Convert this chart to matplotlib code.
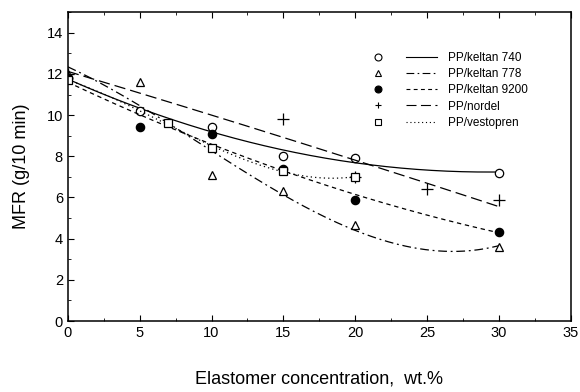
import numpy as np
import matplotlib
matplotlib.use("Agg")
from matplotlib import pyplot as plt
from matplotlib.lines import Line2D
from matplotlib.legend_handler import HandlerTuple
from matplotlib.ticker import MultipleLocator

plt.rcParams['font.family'] = ['Liberation Sans', 'DejaVu Sans']

# Data (elastomer wt.% vs MFR g/10 min)
x_740 = [0, 5, 10, 15, 20, 30]
y_740 = [11.8, 10.2, 9.4, 8.0, 7.9, 7.2]
x_778 = [0, 5, 10, 15, 20, 30]
y_778 = [12.0, 11.6, 7.1, 6.3, 4.66, 3.6]
x_9200 = [0, 5, 10, 15, 20, 30]
y_9200 = [11.8, 9.4, 9.1, 7.4, 5.9, 4.33]
x_nordel = [0, 15, 20, 25, 30]
y_nordel = [12.0, 9.8, 7.0, 6.4, 5.9]
x_vest = [0, 7, 10, 15, 20]
y_vest = [11.7, 9.6, 8.4, 7.3, 7.0]

labels = ["PP/keltan 740", "PP/keltan 778", "PP/keltan 9200", "PP/nordel", "PP/vestopren"]

series = [
    # x, y, marker, face, linestyle, fit degree
    (x_740, y_740, "o", "white", "-", 2),
    (x_778, y_778, "^", "white", (0, (7, 3, 1.5, 3)), 3),
    (x_9200, y_9200, "o", "black", (0, (3.5, 3)), 2),
    (x_nordel, y_nordel, "+", "black", (0, (9, 4)), 2),
    (x_vest, y_vest, "s", "white", (0, (1, 2.5)), 3),
]

fig = plt.figure(figsize=(5.8, 3.92), dpi=100)
ax = fig.add_axes([0.117, 0.181, 0.867, 0.788])

handles = []
for (xs, ys, mk, fc, ls, deg), lab in zip(series, labels):
    xs = np.array(xs, dtype=float)
    ys = np.array(ys, dtype=float)
    coef = np.polyfit(xs, ys, deg)
    xf = np.linspace(xs.min(), xs.max(), 200)
    ax.plot(xf, np.polyval(coef, xf), color="black", lw=0.9, linestyle=ls)
    ms = 8 if mk == "+" else 6
    ax.plot(xs, ys, linestyle="none", marker=mk, markersize=ms,
            markerfacecolor=fc, markeredgecolor="black", markeredgewidth=0.9)
    h_m = Line2D([], [], linestyle="none", marker=mk, markersize=5,
                 markerfacecolor=fc, markeredgecolor="black", markeredgewidth=0.8)
    h_l = Line2D([], [], color="black", lw=0.8, linestyle=ls)
    handles.append((h_m, h_l))

ax.legend(handles, labels, handler_map={tuple: HandlerTuple(ndivide=None, pad=1.0)},
          loc="upper right", bbox_to_anchor=(0.935, 0.905), frameon=False,
          fontsize=8.5, handlelength=6.3, handletextpad=0.9, labelspacing=0.35)

ax.set_xlim(0, 35)
ax.set_ylim(0, 15)
ax.set_xticks(np.arange(0, 36, 5))
ax.set_yticks(np.arange(0, 15, 2))
ax.xaxis.set_minor_locator(MultipleLocator(2.5))
ax.yaxis.set_minor_locator(MultipleLocator(1))
ax.tick_params(which="both", direction="in", top=True, right=False, labelsize=10.5)
ax.tick_params(which="major", length=4, width=0.8)
ax.tick_params(which="minor", length=2, width=0.6)
for sp in ax.spines.values():
    sp.set_linewidth(1.1)

ax.set_xlabel("Elastomer concentration,  wt.%", fontsize=13, labelpad=22)
ax.set_ylabel("MFR (g/10 min)", fontsize=13, labelpad=12)

plt.savefig("out.png", dpi=100)
